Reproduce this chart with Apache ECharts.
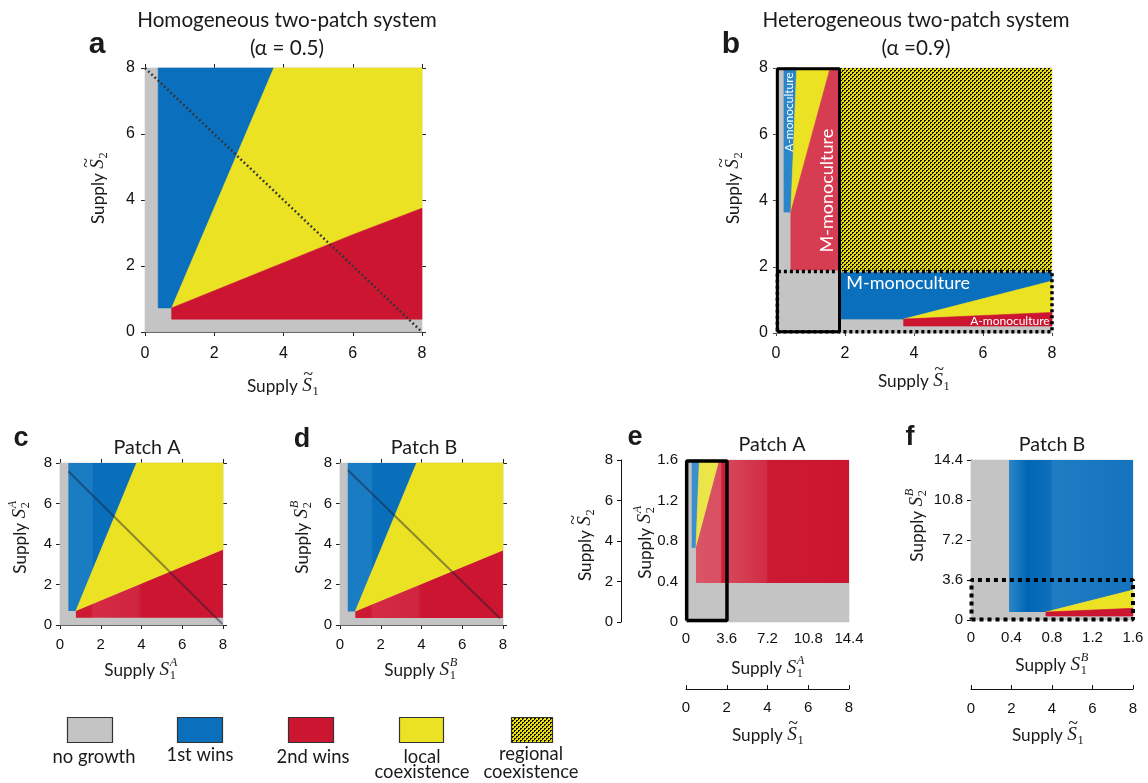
<!DOCTYPE html>
<html><head><meta charset="utf-8">
<script src="https://cdn.jsdelivr.net/npm/echarts@6/dist/echarts.min.js"></script>
<style>html,body{margin:0;padding:0;background:#fff}#c{width:1148px;height:783px}</style>
</head><body><div id="c"></div>
<script>
// ---------------- colours of the outcome classes ----------------
const GRAY = '#c4c4c4', BLUE = '#0a70bd', RED = '#cc1530', YELLOW = '#ece224';

// ---------------- Panel a : homogeneous system (alpha = 0.5), S~1,S~2 in [0,8] ----------------
const aNoGrowth   = [[0,0],[8,0],[8,8],[0,8]];
const aFirstWins  = [[0.38,0.73],[0.77,0.73],[3.72,8],[0.38,8]];
const aLocalCoex  = [[0.77,0.73],[3.72,8],[8,8],[8,3.75],[6,2.95],[4,2.1],[2,1.25]];
const aSecondWins = [[0.77,0.39],[8,0.39],[8,3.75],[6,2.95],[4,2.1],[2,1.25],[0.77,0.73]];
const aDiagonal   = [[0,8],[8,0]];

// ---------------- Panel b : heterogeneous system (alpha = 0.9) ----------------
const bNoGrowth      = [[0,0],[8,0],[8,8],[0,8]];
const bRegionalCoex  = [[1.86,1.86],[8,1.86],[8,8],[1.86,8]];
const bLeftFirst     = [[0.23,3.65],[0.43,3.65],[0.6,8],[0.23,8]];
const bLeftLocal     = [[0.43,3.65],[0.6,8],[1.57,8]];
const bLeftSecond    = [[0.43,1.9],[1.84,1.9],[1.84,8],[1.57,8],[0.43,3.65]];
const bBottomFirst   = [[1.86,0.42],[3.7,0.42],[8,1.57],[8,1.82],[1.86,1.82]];
const bBottomLocal   = [[3.7,0.42],[8,1.57],[8,0.62]];
const bBottomSecond  = [[3.7,0.21],[8,0.21],[8,0.62],[3.7,0.42]];
const bSolidBox      = [[0.04,0.04],[1.84,0.04],[1.84,7.98],[0.04,7.98],[0.04,0.04]];
const bDottedBox     = [[0.04,0.04],[8,0.04],[8,1.86],[0.04,1.86],[0.04,0.04]];
const bLabelText     = ['A-monoculture','M-monoculture','M-monoculture','A-monoculture'];
const bLabelAt       = [[0.39,6.67],[1.49,4.3],[3.83,1.5],[6.78,0.35]];

// ---------------- Panel c : patch A (homogeneous) ----------------
const cNoGrowth   = [[0,0],[8,0],[8,8],[0,8]];
const cFirstWins  = [[0.41,0.69],[0.78,0.69],[3.76,8],[0.41,8]];
const cLocalCoex  = [[0.78,0.69],[3.76,8],[8,8],[8,3.71]];
const cSecondWins = [[0.78,0.36],[8,0.36],[8,3.71],[0.78,0.69]];
const cDiagonal   = [[0.41,7.59],[7.97,0.05]];

// ---------------- Panel d : patch B (homogeneous) ----------------
const dNoGrowth   = [[0,0],[8,0],[8,8],[0,8]];
const dFirstWins  = [[0.38,0.67],[0.75,0.67],[3.76,8],[0.38,8]];
const dLocalCoex  = [[0.75,0.67],[3.76,8],[8,8],[8,3.68]];
const dSecondWins = [[0.75,0.34],[8,0.34],[8,3.68],[0.75,0.67]];
const dDiagonal   = [[0.38,7.65],[7.85,0.33]];

// ---------------- Panel e : patch A (heterogeneous), S1A in [0,14.4], S2A in [0,1.6] ----------------
const eNoGrowth   = [[0,0],[14.4,0],[14.4,1.6],[0,1.6]];
const eFirstWins  = [[0.53,0.736],[0.88,0.736],[1.18,1.6],[0.53,1.6]];
const eLocalCoex  = [[0.88,0.736],[1.18,1.6],[2.94,1.6]];
const eSecondWins = [[0.88,0.384],[14.4,0.384],[14.4,1.6],[2.94,1.6],[0.88,0.736]];
const eSolidBox   = [[0.06,0.015],[3.62,0.015],[3.62,1.59],[0.06,1.59],[0.06,0.015]];

// ---------------- Panel f : patch B (heterogeneous), S1B in [0,1.6], S2B in [0,14.4] ----------------
const fNoGrowth   = [[0,0],[1.6,0],[1.6,14.4],[0,14.4]];
const fFirstWins  = [[0.375,0.72],[0.74,0.72],[1.6,2.7],[1.6,14.4],[0.375,14.4]];
const fLocalCoex  = [[0.74,0.72],[1.6,2.7],[1.6,1.05]];
const fSecondWins = [[0.74,0.36],[1.6,0.36],[1.6,1.05],[0.74,0.72]];
const fDottedBox  = [[0.005,0.05],[1.6,0.05],[1.6,3.6],[0.005,3.6],[0.005,0.05]];

// ---------------- tick settings ----------------
const ticks8    = {min:0, max:8, interval:2};
const ticks14   = {min:0, max:14.4, interval:3.6};
const ticks16   = {min:0, max:1.6, interval:0.4};

const legendLabels = [['no growth'],['1st wins'],['2nd wins'],['local','coexistence'],['regional','coexistence']];

// ---------------- helpers ----------------
const mctx = document.createElement('canvas').getContext('2d');
function tw(font, t){ mctx.font = font; return mctx.measureText(t).width; }
function fit(text, fam, target, weight){ return 100 * target / tw((weight||'normal') + ' 100px ' + fam, text); }

// regional-coexistence texture
const pc = document.createElement('canvas'); pc.width = 4; pc.height = 4;
const pctx = pc.getContext('2d');
pctx.fillStyle = '#e8de14'; pctx.fillRect(0,0,4,4);
pctx.fillStyle = '#151300';
pctx.fillRect(0,0,2,2); pctx.fillRect(2,2,2,2);
pctx.fillStyle = '#e8de14'; pctx.fillRect(1,1,1,1); pctx.fillRect(3,3,1,1);
const REGIONAL = {image: pc, repeat: 'repeat'};

function grad(stops){ return new echarts.graphic.LinearGradient(0,0,1,0, stops.map(s=>({offset:s[0], color:s[1]}))); }

function polySeries(gi, regions){
  return {
    type:'custom', xAxisIndex: gi, yAxisIndex: gi, silent:true, z:1,
    data: regions.map((r,i)=>[i]),
    renderItem(params, api){
      const r = regions[params.dataIndex];
      const pts = r[0].map(p => api.coord(p));
      const st = {fill: r[1]};
      if (typeof r[1] === 'string') { st.stroke = r[1]; st.lineWidth = 0.6; }
      return {type:'polygon', shape:{points: pts}, style: st};
    }
  };
}
function lineSeries(gi, pts, style){
  return {type:'line', xAxisIndex: gi, yAxisIndex: gi, data: pts, symbol:'none', silent:true,
    clip:false, z:4, lineStyle: style, animation:false};
}

const TFONT = 'Liberation Sans';
function axisBase(extra){
  const base = {
    type:'value', splitLine:{show:false},
    axisTick:{show:true, length:4, lineStyle:{color:'#222'}},
    axisLabel:{fontFamily:TFONT, fontSize:15, color:'#111', margin:10, showMinLabel:true, showMaxLabel:true}
  };
  const o = Object.assign(base, extra);
  o.axisLine = Object.assign({show:true, onZero:false, lineStyle:{color:'#444', width:1}}, extra.axisLine || {}, {onZero:false});
  return o;
}
const fmt1 = v => v === 0 ? '0' : v.toFixed(1);

// ---------------- text sizes ----------------
const TITLE_FS = fit('Homogeneous two-patch system', 'Lato', 300);
const PATCH_FS = fit('Patch A', 'Lato', 67);
const LEG_FS   = fit('no growth', 'Lato', 83);
const NAME_FS  = fit('Supply', 'Lato', 51);

function T(text, x, y, font, align, extra){
  return Object.assign({type:'text', x:x, y:y, silent:true,
    style:{text:text, font:font, fill:'#1a1a1a', textAlign:align||'center', align:align||'center',
           textVerticalAlign:'middle', verticalAlign:'middle'}}, extra||{});
}
function mathLabel(cx, cy, vertical, tilde, sub, sup){
  const s = NAME_FS;
  const fA = s.toFixed(1) + 'px Lato';
  const fS = 'italic ' + (s*1.12).toFixed(1) + 'px "Liberation Serif"';
  const fSub = (s*0.72).toFixed(1) + 'px "Liberation Serif"';
  const fSup = 'italic ' + (s*0.72).toFixed(1) + 'px "Liberation Serif"';
  const w1 = tw(fA, 'Supply '), w2 = tw(fS, 'S');
  const w3 = Math.max(tw(fSub, sub), sup ? tw(fSup, sup) : 0);
  const W = w1 + w2 + w3 + 1;
  const x0 = -W/2;
  const ch = [T('Supply ', x0, 0, fA, 'left'), T('S', x0 + w1, 0, fS, 'left')];
  if (tilde) ch.push(T('~', x0 + w1 + w2*0.6, -s*0.6, (s*1.05).toFixed(1)+'px "Liberation Serif"', 'center'));
  ch.push(T(sub, x0 + w1 + w2 + 0.5, s*0.33, fSub, 'left'));
  if (sup) ch.push(T(sup, x0 + w1 + w2 + 0.5, -s*0.42, fSup, 'left'));
  return {type:'group', x:cx, y:cy, rotation: vertical ? Math.PI/2 : 0, children: ch};
}

// ---------------- graphic (titles, letters, axis names, legend) ----------------
const tF = TITLE_FS.toFixed(1) + 'px Lato';
const pF = PATCH_FS.toFixed(1) + 'px Lato';
const lF = LEG_FS.toFixed(1) + 'px Lato';
const graphics = [
  T('Homogeneous two-patch system', 287, 20, tF), T('(\u03b1 = 0.5)', 287, 48, tF),
  T('Heterogeneous two-patch system', 916, 20, tF), T('(\u03b1 =0.9)', 916, 48, tF),
  T('a', 97, 45, 'bold 30px "Liberation Sans"'), T('b', 731, 45, 'bold 30px "Liberation Sans"'),
  T('c', 21, 439, 'bold 27px "Liberation Sans"'), T('d', 302, 440, 'bold 27px "Liberation Sans"'),
  T('e', 635, 438, 'bold 27px "Liberation Sans"'), T('f', 910, 438, 'bold 27px "Liberation Sans"'),
  T('Patch A', 147, 448, pF), T('Patch B', 424, 448, pF), T('Patch A', 772, 445, pF), T('Patch B', 1052, 445, pF),
  mathLabel(283, 386, false, true, '1', null), mathLabel(98, 188, true, true, '2', null),
  mathLabel(914, 381, false, true, '1', null), mathLabel(733, 188, true, true, '2', null),
  mathLabel(141, 670, false, false, '1', 'A'), mathLabel(20, 537, true, false, '2', 'A'),
  mathLabel(421, 670, false, false, '1', 'B'), mathLabel(302, 537, true, false, '2', 'B'),
  mathLabel(768, 668, false, false, '1', 'A'), mathLabel(768, 735, false, true, '1', null),
  mathLabel(585, 545, true, true, '2', null), mathLabel(645, 542, true, false, '2', 'A'),
  mathLabel(1052, 665, false, false, '1', 'B'), mathLabel(1048, 735, false, true, '1', null),
  mathLabel(917, 525, true, false, '2', 'B')
];
// legend
const legFills = [GRAY, BLUE, RED, YELLOW, REGIONAL];
const legBoxX = [67, 177, 288, 399, 511];
const legBoxW = [45, 45, 45, 44, 41];
const legTextX = [94, 200, 313, 422, 531];
legendLabels.forEach((lab, i) => {
  graphics.push({type:'rect', silent:true, shape:{x:legBoxX[i]+0.5, y:717.5, width:legBoxW[i], height:25},
    style:{fill: legFills[i], stroke:'#333', lineWidth:1.2}});
  if (lab.length === 1) graphics.push(T(lab[0], legTextX[i], i === 1 ? 755 : 757, lF));
  else { graphics.push(T(lab[0], legTextX[i], i === 4 ? 754 : 757, lF)); graphics.push(T(lab[1], legTextX[i], 772, lF)); }
});

// ---------------- option ----------------
const grids = [
  {left:145, top:68, width:277, height:264},
  {left:776, top:68, width:276, height:265},
  {left:60,  top:463, width:163, height:162},
  {left:340, top:463, width:163, height:162},
  {left:686, top:460, width:163, height:162},
  {left:971, top:460, width:162, height:160}
];
const mirrorX = gi => axisBase(Object.assign({gridIndex:gi, position:'top', axisLabel:{show:false}, axisLine:{show:false}}, ticks8));
const mirrorY = gi => axisBase(Object.assign({gridIndex:gi, position:'right', axisLabel:{show:false}, axisLine:{show:false}}, ticks8));
const lab = (o) => Object.assign({fontFamily:TFONT, fontSize:15, color:'#111', showMinLabel:true, showMaxLabel:true}, o);
const blk = {show:true, lineStyle:{color:'#111', width:1}};

const xAxis = [
  axisBase(Object.assign({gridIndex:0, axisLabel: lab({fontSize:16, margin:14})}, ticks8)),
  axisBase(Object.assign({gridIndex:1, axisLine:{show:false}, axisTick:{show:true,length:3}, axisLabel: lab({fontSize:16, margin:13})}, ticks8)),
  axisBase(Object.assign({gridIndex:2, axisLabel: lab({margin:12})}, ticks8)),
  axisBase(Object.assign({gridIndex:3, axisLabel: lab({margin:12})}, ticks8)),
  axisBase(Object.assign({gridIndex:4, axisLine:{show:false}, axisTick:{show:false}, axisLabel: lab({margin:9, formatter: fmt1})}, ticks14)),
  axisBase(Object.assign({gridIndex:5, axisLine:{show:false}, axisTick:{show:false}, axisLabel: lab({margin:10, formatter: fmt1})}, ticks16)),
  mirrorX(0), mirrorX(2), mirrorX(3),
  axisBase(Object.assign({gridIndex:4, position:'bottom', offset:67, axisLine:blk, axisTick:{show:true, inside:true, length:4, lineStyle:{color:'#111'}}, axisLabel: lab({margin:11})}, ticks8)),
  axisBase(Object.assign({gridIndex:5, position:'bottom', offset:69, axisLine:blk, axisTick:{show:true, inside:true, length:4, lineStyle:{color:'#111'}}, axisLabel: lab({margin:12})}, ticks8))
];
const yAxis = [
  axisBase(Object.assign({gridIndex:0, axisLabel: lab({fontSize:16, margin:10})}, ticks8)),
  axisBase(Object.assign({gridIndex:1, axisLine:{show:false}, axisTick:{show:true,length:3}, axisLabel: lab({fontSize:16, margin:8})}, ticks8)),
  axisBase(Object.assign({gridIndex:2, axisLabel: lab({margin:8})}, ticks8)),
  axisBase(Object.assign({gridIndex:3, axisLabel: lab({margin:8})}, ticks8)),
  axisBase(Object.assign({gridIndex:4, axisLine:{show:false}, axisTick:{show:false}, axisLabel: lab({margin:8, formatter: fmt1})}, ticks16)),
  axisBase(Object.assign({gridIndex:5, axisLine:blk, axisTick:{show:true, length:4, lineStyle:{color:'#111'}}, axisLabel: lab({margin:8, formatter: fmt1})}, ticks14)),
  mirrorY(0), mirrorY(2), mirrorY(3),
  axisBase(Object.assign({gridIndex:4, position:'left', offset:65, axisLine:blk, axisTick:{show:true, length:4, lineStyle:{color:'#111'}}, axisLabel: lab({margin:8})}, ticks8))
];

const cBlue = grad([[0,'#1a7cc3'],[0.35,'#1a7cc3'],[0.36,'#0a6fbb'],[1,'#0a6fbb']]);
const cRed  = grad([[0,'#cc1a33'],[0.1,'#cc1a33'],[0.12,'#d42a44'],[0.42,'#d02540'],[0.45,'#cc1530'],[1,'#cc1530']]);
const dBlue = grad([[0,'#1a7cc3'],[0.35,'#1a7cc3'],[0.36,'#0a6fbb'],[1,'#0a6fbb']]);
const dRed  = grad([[0,'#cc1a33'],[0.1,'#cc1a33'],[0.12,'#d42a44'],[0.42,'#d02540'],[0.45,'#cc1530'],[1,'#cc1530']]);
const eRed  = grad([[0,'#da5566'],[0.16,'#d84f61'],[0.17,'#cc1f38'],[0.2,'#cc1f38'],[0.205,'#d6465a'],[0.46,'#d12d45'],[0.47,'#cc1a32'],[1,'#cc1530']]);
const eBlue = '#3b8fcc';
const eYel  = '#ece54a';
const fBlue = grad([[0,'#2c86c9'],[0.15,'#0066b4'],[0.34,'#0f70bb'],[0.35,'#1f7dc4'],[1,'#1473bd']]);
const bLeftRed = '#d63d52';

const series = [
  polySeries(0, [[aNoGrowth, GRAY], [aFirstWins, BLUE], [aLocalCoex, YELLOW], [aSecondWins, RED]]),
  lineSeries(0, aDiagonal, {color:'#333', width:2.5, type:[1.8,2.6]}),
  polySeries(1, [[bNoGrowth, GRAY], [bRegionalCoex, REGIONAL], [bLeftFirst, '#2a86c9'], [bLeftLocal, YELLOW],
                 [bLeftSecond, bLeftRed], [bBottomFirst, BLUE], [bBottomLocal, YELLOW], [bBottomSecond, RED]]),
  lineSeries(1, bSolidBox, {color:'#000', width:3}),
  lineSeries(1, bDottedBox, {color:'#000', width:3.5, type:[3,3]}),
  {type:'custom', xAxisIndex:1, yAxisIndex:1, silent:true, z:5, data: bLabelText.map((t,i)=>[i]),
   renderItem(params, api){
     const i = params.dataIndex, p = api.coord(bLabelAt[i]);
     const vertical = (i === 0 || i === 1), small = (i === 0 || i === 3);
     return {type:'text', x:p[0], y:p[1], rotation: vertical ? Math.PI/2 : 0,
       style:{text: bLabelText[i], fill:'#fff', font: (small ? 12 : 18) + 'px Lato',
              textAlign:'center', align:'center', textVerticalAlign:'middle', verticalAlign:'middle'}};
   }},
  polySeries(2, [[cNoGrowth, GRAY], [cFirstWins, cBlue], [cLocalCoex, YELLOW], [cSecondWins, cRed]]),
  lineSeries(2, cDiagonal, {color:'rgba(25,25,50,0.45)', width:2}),
  polySeries(3, [[dNoGrowth, GRAY], [dFirstWins, dBlue], [dLocalCoex, YELLOW], [dSecondWins, dRed]]),
  lineSeries(3, dDiagonal, {color:'rgba(25,25,50,0.45)', width:2}),
  polySeries(4, [[eNoGrowth, GRAY], [eFirstWins, eBlue], [eLocalCoex, eYel], [eSecondWins, eRed]]),
  lineSeries(4, eSolidBox, {color:'#000', width:3.5}),
  polySeries(5, [[fNoGrowth, GRAY], [fFirstWins, fBlue], [fLocalCoex, YELLOW], [fSecondWins, RED]]),
  lineSeries(5, fDottedBox, {color:'#000', width:4, type:[4,4]})
];

const chart = echarts.init(document.getElementById('c'), null, {renderer:'canvas'});
chart.setOption({animation:false, backgroundColor:'#fff', grid: grids, xAxis: xAxis, yAxis: yAxis,
  series: series, graphic: {elements: graphics}});
</script></body></html>
